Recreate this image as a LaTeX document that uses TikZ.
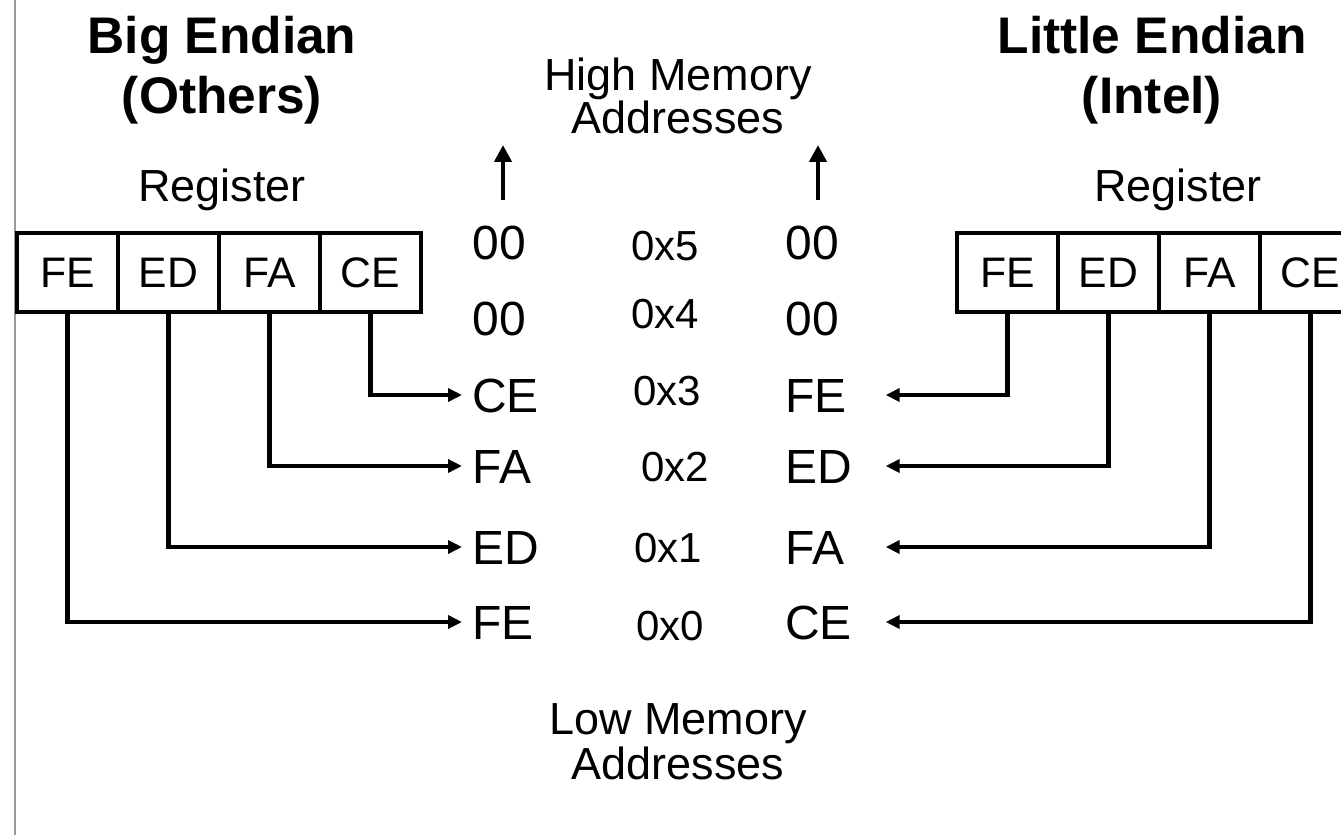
\documentclass[tikz,border=0pt]{standalone}
\usepackage{fontspec}
\setmainfont{Liberation Sans}
\usetikzlibrary{arrows.meta}
\usetikzlibrary{positioning}

\tikzset{
    cell/.style={draw, line width=0.08cm, minimum width=2.02cm, minimum height=1.58cm,
        outer sep=0pt, inner sep=0pt, font=\fontsize{24.3}{25}\selectfont},
    byte/.style={inner sep=0pt, inner xsep=0.2cm, text height=19.6pt, text depth=0pt,
        font=\fontsize{27.3}{28}\selectfont},
    addr/.style={inner sep=0pt, text height=17.2pt, text depth=0pt,
        font=\fontsize{23.9}{24}\selectfont},
    wire/.style={line width=0.085cm, -{Triangle[length=0.28cm,width=0.26cm]}},
    uparrow/.style={line width=0.085cm, -{Triangle[length=0.34cm,width=0.34cm]}},
}

\begin{document}
\begin{tikzpicture}[x=0.02cm, y=-0.02cm]

    \clip (0,0) rectangle (1341,835);
    \draw[black!40, line width=0.04cm] (15,0) -- (15,835);

    % titles
    \node[font=\bfseries\fontsize{29.3}{34}\selectfont, align=center] (bigtitle) at (222,70) {Big Endian\\(Others)};
    \node[font=\bfseries\fontsize{29.3}{34}\selectfont, align=center] (littletitle) at (1152,70) {Little Endian\\(Intel)};
    \node[font=\fontsize{25.6}{24}\selectfont, align=center] (high) at (678,96) {High Memory\\Addresses};
    \node[font=\fontsize{25.6}{25.6}\selectfont, align=center] (low) at (678,742) {Low Memory\\Addresses};

    % registers
    \node[font=\fontsize{25.6}{26}\selectfont] (bigreg) at (222,190) {Register};
    \node[cell, anchor=north west] (bFE) at (17,233) {FE};
    \node[cell, right=0pt of bFE] (bED) {ED};
    \node[cell, right=0pt of bED] (bFA) {FA};
    \node[cell, right=0pt of bFA] (bCE) {CE};

    \node[font=\fontsize{25.6}{26}\selectfont] (littlereg) at (1178,190) {Register};
    \node[cell, anchor=north west] (lFE) at (957,233) {FE};
    \node[cell, right=0pt of lFE] (lED) {ED};
    \node[cell, right=0pt of lED] (lFA) {FA};
    \node[cell, right=0pt of lFA] (lCE) {CE};

    % memory, one row per address
    \foreach \n/\y/\big/\little/\ax/\ay in {5/242/00/00/665/245, 4/318/00/00/665/313,
        3/395/CE/FE/667/390, 2/466/FA/ED/675/466, 1/547/ED/FA/668/547, 0/622/FE/CE/670/625} {
        \node[byte, anchor=west] (bm\n) at (462,\y) {\big};
        \node[byte, anchor=west, text width=1.8cm, align=left] (lm\n) at (775,\y) {\little};
        \node[addr] (a\n) at (\ax,\ay) {0x\n};
    }

    \coordinate (bigup) at (503,200);
    \coordinate (littleup) at (818,200);
    \draw[uparrow] (bigup) -- ++(0,-55);
    \draw[uparrow] (littleup) -- ++(0,-55);

    \draw[wire] (bCE.south) |- (bm3.west);
    \draw[wire] (bFA.south) |- (bm2.west);
    \draw[wire] (bED.south) |- (bm1.west);
    \draw[wire] (bFE.south) |- (bm0.west);

    \draw[wire] (lFE.south) |- (lm3.east);
    \draw[wire] (lED.south) |- (lm2.east);
    \draw[wire] (lFA.south) |- (lm1.east);
    \draw[wire] (lCE.south) |- (lm0.east);

\end{tikzpicture}
\end{document}
